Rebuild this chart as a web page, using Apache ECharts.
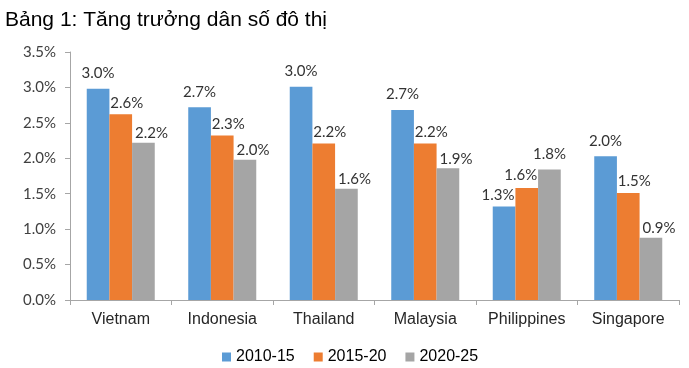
<!DOCTYPE html>
<html><head><meta charset="utf-8">
<script src="https://cdn.jsdelivr.net/npm/echarts@6/dist/echarts.min.js"></script>
<style>html,body{margin:0;padding:0;background:#fff}#c{width:689px;height:368px}</style>
</head><body><div id="c"></div>
<script>
const categories = ['Vietnam','Indonesia','Thailand','Malaysia','Philippines','Singapore'];
const seriesNames = ['2010-15','2015-20','2020-25'];
const s2010_15 = [2.98, 2.72, 3.01, 2.68, 1.32, 2.03];
const s2015_20 = [2.62, 2.32, 2.21, 2.21, 1.58, 1.51];
const s2020_25 = [2.22, 1.98, 1.57, 1.86, 1.84, 0.88];
const yTicks = [0, 0.5, 1, 1.5, 2, 2.5, 3, 3.5];

const colors = ['#5B9BD5','#ED7D31','#A5A5A5'];
const baseOffsets = [[0,-3],[6,1],[8,3]];
const specialOffsets = {Philippines: [[-6,1],[-6,0],[0,-3]]};
const allData = [s2010_15, s2015_20, s2020_25];

const chart = echarts.init(document.getElementById('c'), null, {renderer:'canvas'});
const series = allData.map((arr, si) => ({
  name: seriesNames[si],
  type: 'bar',
  barGap: '0%',
  barCategoryGap: '33%',
  itemStyle: {color: colors[si]},
  data: arr.map((v, ci) => {
    const sp = specialOffsets[categories[ci]];
    return sp ? {value: v, label: {offset: sp[si]}} : v;
  }),
  label: {
    show: true, position: 'top', distance: 5,
    offset: baseOffsets[si],
    fontFamily: 'Lato', fontSize: 15, color: '#333',
    formatter: p => p.value.toFixed(1) + '%'
  }
}));

chart.setOption({
  animation: false,
  title: {
    text: 'Bảng 1: Tăng trưởng dân số đô thị',
    left: 0, top: 5,
    textStyle: {fontFamily: 'Liberation Sans', fontSize: 21, fontWeight: 'normal', color: '#000'}
  },
  legend: {
    data: seriesNames,
    left: 217, top: 344,
    itemWidth: 9, itemHeight: 9, itemGap: 19,
    icon: 'rect',
    textStyle: {fontFamily: 'Liberation Sans', fontSize: 16, color: '#000'}
  },
  grid: {left: 70, right: 10, top: 52, bottom: 68, containLabel: false},
  xAxis: {
    type: 'category', data: categories,
    axisLine: {lineStyle: {color: '#A6A6A6'}},
    axisTick: {show: true, length: 5, alignWithLabel: false, lineStyle: {color: '#A6A6A6'}},
    axisLabel: {fontFamily: 'Liberation Sans', fontSize: 16, color: '#262626', margin: 12}
  },
  yAxis: {
    type: 'value', min: 0, max: 3.5, interval: 0.5,
    axisLine: {show: true, lineStyle: {color: '#A6A6A6'}},
    axisTick: {show: true, length: 5, lineStyle: {color: '#A6A6A6'}},
    splitLine: {show: false},
    axisLabel: {fontFamily: 'Lato', fontSize: 15, color: '#404040', margin: 14,
      formatter: v => yTicks.includes(v) ? v.toFixed(1) + '%' : ''}
  },
  series: series
});
</script></body></html>
